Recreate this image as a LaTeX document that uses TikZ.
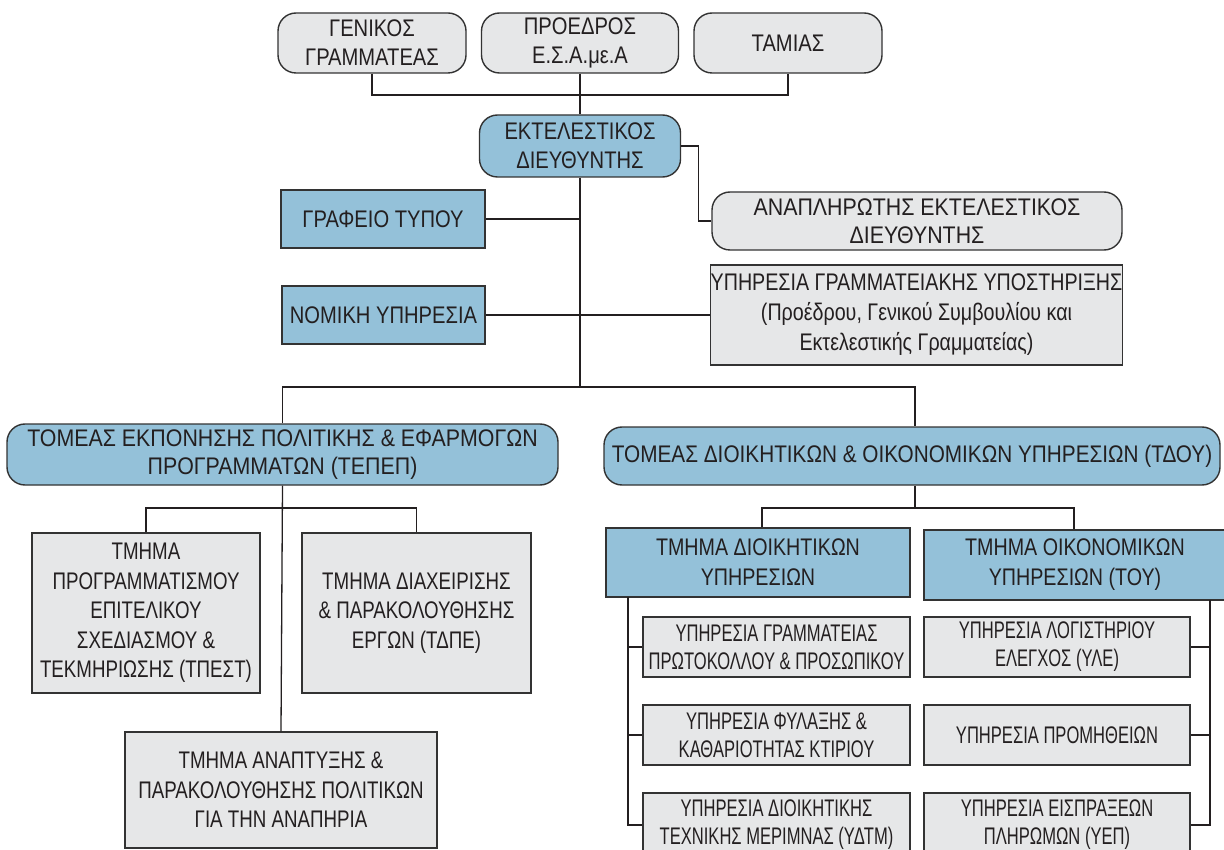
\documentclass[tikz,border=0pt]{standalone}
\usepackage{fontspec}
\setmainfont{Liberation Sans}[FakeStretch=0.84]
\newfontfamily\fontWide{Liberation Sans}[FakeStretch=0.89]
\newfontfamily\fontWideB{Liberation Sans}[FakeStretch=0.865]
\newfontfamily\fontMid{Liberation Sans}[FakeStretch=0.82]
\newfontfamily\fontDep{Liberation Sans}[FakeStretch=0.78]
\newfontfamily\fontNar{Liberation Sans}[FakeStretch=0.69]
\usetikzlibrary{calc}
\definecolor{boxblue}{HTML}{94C1D9}
\definecolor{boxgray}{HTML}{E6E7E8}
\definecolor{edgec}{HTML}{333333}
\definecolor{wirec}{HTML}{231F20}
\definecolor{txtc}{HTML}{231F20}
\begin{document}
\begin{tikzpicture}[x=1pt,y=-1pt,
 base/.style={draw=edgec, line width=1.4pt, align=center, inner sep=0pt, font=\fontsize{24}{29}\selectfont, text=txtc},
 bluebox/.style={base, fill=boxblue},
 graybox/.style={base, fill=boxgray},
 rnd/.style={rounded corners=18pt},
 widefont/.style={font=\fontWide\fontsize{24}{28}\selectfont},
 widefontb/.style={font=\fontWideB\fontsize{24}{28}\selectfont},
 midfont/.style={font=\fontMid\fontsize{24}{30}\selectfont},
 depfont/.style={font=\fontDep\fontsize{24}{29.5}\selectfont},
 narfont/.style={font=\fontNar\fontsize{24}{28}\selectfont},
 wire/.style={draw=wirec, line width=1.3pt},
]
\useasboundingbox (0,0) rectangle (1224,850);
\clip (0,0) rectangle (1224,850);
\fill[white] (0,0) rectangle (1224,850);

% top row
\node[graybox,rnd,minimum width=188pt,minimum height=60pt] (gen) at (372,43) {ΓΕΝΙΚΟΣ\\ΓΡΑΜΜΑΤΕΑΣ};
\node[graybox,rnd,minimum width=197pt,minimum height=60pt] (pres) at (580,43) {ΠΡΟΕΔΡΟΣ\\Ε.Σ.Α.με.Α};
\node[graybox,rnd,minimum width=188pt,minimum height=60pt] (tam) at (788,43) {ΤΑΜΙΑΣ};

\node[bluebox,rnd,minimum width=201pt,minimum height=62pt] (ekt) at (580,146) {ΕΚΤΕΛΕΣΤΙΚΟΣ\\ΔΙΕΥΘΥΝΤΗΣ};
\node[graybox,rnd,widefont,minimum width=410pt,minimum height=58pt] (anapl) at (917,221) {ΑΝΑΠΛΗΡΩΤΗΣ ΕΚΤΕΛΕΣΤΙΚΟΣ\\ΔΙΕΥΘΥΝΤΗΣ};

\node[bluebox,minimum width=204pt,minimum height=58pt] (graf) at (383,219) {ΓΡΑΦΕΙΟ ΤΥΠΟΥ};
\node[bluebox,minimum width=203pt,minimum height=58pt] (nom) at (383.5,315) {ΝΟΜΙΚΗ ΥΠΗΡΕΣΙΑ};
\node[graybox,midfont,minimum width=411pt,minimum height=100pt] (ypgr) at (916.5,315) {ΥΠΗΡΕΣΙΑ ΓΡΑΜΜΑΤΕΙΑΚΗΣ ΥΠΟΣΤΗΡΙΞΗΣ\\(Προέδρου, Γενικού Συμβουλίου και\\Εκτελεστικής Γραμματείας)};

% sectors
\node[bluebox,rnd,widefont,minimum width=551pt,minimum height=61pt] (tomA) at (282.5,454.5) {ΤΟΜΕΑΣ ΕΚΠΟΝΗΣΗΣ ΠΟΛΙΤΙΚΗΣ \& ΕΦΑΡΜΟΓΩΝ\\ΠΡΟΓΡΑΜΜΑΤΩΝ (ΤΕΠΕΠ)};
\node[bluebox,rnd,widefontb,minimum width=616pt,minimum height=58pt] (tomB) at (912,456) {ΤΟΜΕΑΣ ΔΙΟΙΚΗΤΙΚΩΝ \& ΟΙΚΟΝΟΜΙΚΩΝ ΥΠΗΡΕΣΙΩΝ (ΤΔΟΥ)};

% left departments
\node[graybox,depfont,minimum width=228pt,minimum height=160pt] (tm1) at (146,613) {ΤΜΗΜΑ\\ΠΡΟΓΡΑΜΜΑΤΙΣΜΟΥ\\ΕΠΙΤΕΛΙΚΟΥ\\ΣΧΕΔΙΑΣΜΟΥ \&\\ΤΕΚΜΗΡΙΩΣΗΣ (ΤΠΕΣΤ)};
\node[graybox,depfont,minimum width=229pt,minimum height=160pt] (tm2) at (416.5,613) {ΤΜΗΜΑ ΔΙΑΧΕΙΡΙΣΗΣ\\\& ΠΑΡΑΚΟΛΟΥΘΗΣΗΣ\\ΕΡΓΩΝ (ΤΔΠΕ)};
\node[graybox,depfont,minimum width=312pt,minimum height=116pt] (tm3) at (281,790) {ΤΜΗΜΑ ΑΝΑΠΤΥΞΗΣ \&\\ΠΑΡΑΚΟΛΟΥΘΗΣΗΣ ΠΟΛΙΤΙΚΩΝ\\ΓΙΑ ΤΗΝ ΑΝΑΠΗΡΙΑ};

% right departments
\node[bluebox,midfont,minimum width=304pt,minimum height=69pt] (tmD) at (758,562.5) {ΤΜΗΜΑ ΔΙΟΙΚΗΤΙΚΩΝ\\ΥΠΗΡΕΣΙΩΝ};
\node[bluebox,midfont,minimum width=302pt,minimum height=70pt] (tmO) at (1075,565) {ΤΜΗΜΑ ΟΙΚΟΝΟΜΙΚΩΝ\\ΥΠΗΡΕΣΙΩΝ (ΤΟΥ)};

\node[graybox,narfont,minimum width=267pt,minimum height=60pt] (y1) at (776.5,647) {ΥΠΗΡΕΣΙΑ ΓΡΑΜΜΑΤΕΙΑΣ\\ΠΡΩΤΟΚΟΛΛΟΥ \& ΠΡΟΣΩΠΙΚΟΥ};
\node[graybox,narfont,minimum width=267pt,minimum height=60pt] (y2) at (776.5,735) {ΥΠΗΡΕΣΙΑ ΦΥΛΑΞΗΣ \&\\ΚΑΘΑΡΙΟΤΗΤΑΣ ΚΤΙΡΙΟΥ};
\node[graybox,narfont,minimum width=267pt,minimum height=64pt] (y3) at (776.5,825) {ΥΠΗΡΕΣΙΑ ΔΙΟΙΚΗΤΙΚΗΣ\\ΤΕΧΝΙΚΗΣ ΜΕΡΙΜΝΑΣ (ΥΔΤΜ)};
\node[graybox,narfont,minimum width=266pt,minimum height=60pt] (y4) at (1057,647) {ΥΠΗΡΕΣΙΑ ΛΟΓΙΣΤΗΡΙΟΥ\\ΕΛΕΓΧΟΣ (ΥΛΕ)};
\node[graybox,narfont,minimum width=266pt,minimum height=60pt] (y5) at (1057,735) {ΥΠΗΡΕΣΙΑ ΠΡΟΜΗΘΕΙΩΝ};
\node[graybox,narfont,minimum width=266pt,minimum height=64pt] (y6) at (1057,825) {ΥΠΗΡΕΣΙΑ ΕΙΣΠΡΑΞΕΩΝ\\ΠΛΗΡΩΜΩΝ (ΥΕΠ)};

% junctions
\coordinate (j1) at (580,95);
\coordinate (j2) at (580,387);
\coordinate (jB) at (915,387);
\coordinate (jA) at (281,508);
\coordinate (jC) at (915,508);
\coordinate (jD) at (762,508);
\coordinate (jO) at (1074,508);
\coordinate (lb) at (628,597);
\coordinate (rb) at (1210,600);

% connectors
\draw[wire] (gen.south) |- (j1) -| (tam.south);
\draw[wire] (pres.south) -- (ekt.north);
\draw[wire] (ekt.east) -- ++(17,0) |- (anapl.west);
\draw[wire] (ekt.south) -- (j2);
\draw[wire] (graf.east) -- (graf.east -| ekt.south);
\draw[wire] (nom.east) -- (ypgr.west);
\draw[wire] (tomA.north) |- (j2) -- (jB) -- (jB |- tomB.north);
\draw[wire] (tomA.south) -- (tm3.north);
\draw[wire] (tm1.north) |- (jA) -| (tm2.north);
\draw[wire] (jC |- tomB.south) -- (jC);
\draw[wire] (jD |- tmD.north) |- (jD) -- (jO) -- (jO |- tmO.north);
\draw[wire] (lb) |- (y1.west);
\draw[wire] (lb) |- (y2.west);
\draw[wire] (lb) |- (y3.west);
\draw[wire] (rb) |- (y4.east);
\draw[wire] (rb) |- (y5.east);
\draw[wire] (rb) |- (y6.east);
\end{tikzpicture}
\end{document}
